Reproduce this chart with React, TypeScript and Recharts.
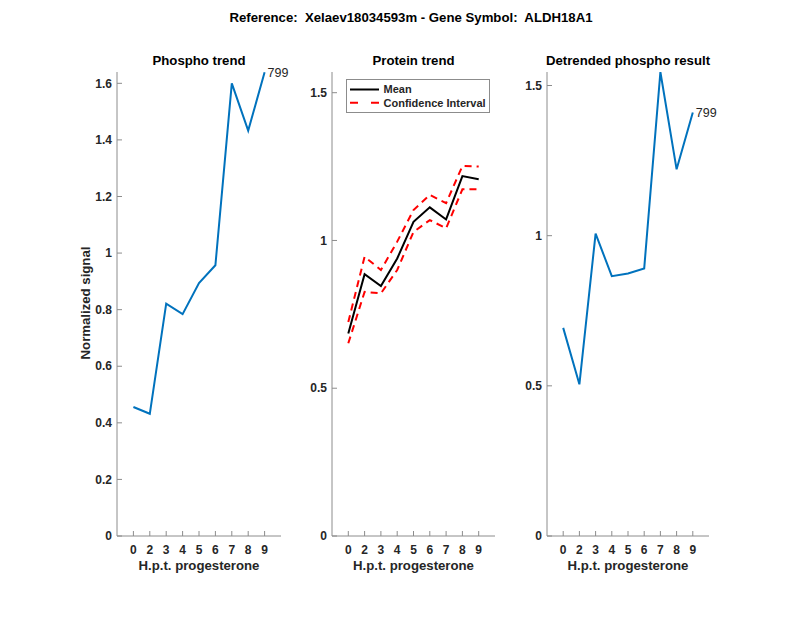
import React from 'react';
import { LineChart, Line, XAxis, YAxis, Legend, LabelList } from 'recharts';

const FONT = "'Liberation Sans', Arial, Helvetica, sans-serif";
const AXIS = '#8c8c8c';
const TXT = '#262626';
const BLUE = '#0072BD';

const figureTitle = 'Reference:  Xelaev18034593m - Gene Symbol:  ALDH18A1';
const categories = ['0', '2', '3', '4', '5', '6', '7', '8', '9'];
const phospho = [0.456, 0.432, 0.821, 0.784, 0.894, 0.957, 1.6, 1.433, 1.639];
const proteinMean = [0.685, 0.886, 0.846, 0.939, 1.063, 1.112, 1.071, 1.218, 1.207];
const ciUpper = [0.724, 0.945, 0.9, 0.996, 1.103, 1.154, 1.126, 1.252, 1.25];
const ciLower = [0.652, 0.826, 0.821, 0.9, 1.029, 1.069, 1.041, 1.173, 1.173];
const detrended = [0.693, 0.505, 1.007, 0.865, 0.874, 0.891, 1.545, 1.221, 1.41];
const siteLabel = '799';
const legendOrder = ['Mean', 'Confidence Interval'];

const phosphoTicks = [0, 0.2, 0.4, 0.6, 0.8, 1, 1.2, 1.4, 1.6];
const proteinTicks = [0, 0.5, 1, 1.5];
const detrendTicks = [0, 0.5, 1, 1.5];
const xPositions = categories.map((_, k) => k + 1);

const makeRows = (cols: Record<string, number[]>) =>
  categories.map((c, k) => {
    const r: any = { i: k + 1, cat: c, tag: k === categories.length - 1 ? siteLabel : '' };
    Object.keys(cols).forEach((key) => {
      r[key] = cols[key][k];
    });
    return r;
  });

const phosphoRows = makeRows({ v: phospho });
const proteinRows = makeRows({ mean: proteinMean, up: ciUpper, lo: ciLower });
const detrendRows = makeRows({ v: detrended });

const X_MARGIN = 9;
const Y_MARGIN = 5;

const XTick = (p: any) => {
  const { x, y, payload } = p;
  const ay = y - X_MARGIN;
  return (
    <g>
      <line x1={x} x2={x} y1={ay} y2={ay - 5} stroke={AXIS} strokeWidth={1} />
      <text x={x} y={y} dy="0.71em" textAnchor="middle" fontFamily={FONT} fontSize={12} fontWeight="bold" fill={TXT}>
        {categories[payload.value - 1]}
      </text>
    </g>
  );
};

const YTick = (p: any) => {
  const { x, y, payload } = p;
  const ax = x + Y_MARGIN;
  return (
    <g>
      <line x1={ax} x2={ax + 5} y1={y} y2={y} stroke={AXIS} strokeWidth={1} />
      <text x={x} y={y} dy="0.35em" textAnchor="end" fontFamily={FONT} fontSize={12} fontWeight="bold" fill={TXT}>
        {String(payload.value)}
      </text>
    </g>
  );
};

const TagLabel = (p: any) => {
  const { x, y, value } = p;
  if (!value) return null;
  return (
    <text x={x + 3} y={y} dy="0.35em" fontFamily={FONT} fontSize={12.5} fill={TXT}>
      {value}
    </text>
  );
};

const LegendBox = (p: any) => {
  const items = (p.payload || [])
    .filter((e: any) => e.type !== 'none' && legendOrder.indexOf(e.value) >= 0)
    .sort((a: any, b: any) => legendOrder.indexOf(a.value) - legendOrder.indexOf(b.value));
  return (
    <svg width={144} height={34} style={{ display: 'block' }}>
      <rect x={0.5} y={0.5} width={143} height={33} fill="#fff" stroke={AXIS} />
      {items.map((e: any, k: number) => {
        const yy = 10.5 + k * 13.3;
        return (
          <g key={k}>
            <line
              x1={4}
              x2={33}
              y1={yy}
              y2={yy}
              stroke={e.color}
              strokeWidth={2}
              strokeDasharray={e.payload && e.payload.strokeDasharray ? '8 13' : undefined}
            />
            <text x={37.5} y={yy} dy="0.35em" fontFamily={FONT} fontSize={11} fontWeight="bold" fill={TXT}>
              {e.value}
            </text>
          </g>
        );
      })}
    </svg>
  );
};

type PanelProps = {
  plotLeft: number;
  plotRight: number;
  data: any[];
  domain: [number, number];
  ticks: number[];
  children: React.ReactNode;
};

function Panel({ plotLeft, plotRight, data, domain, ticks, children }: PanelProps) {
  const w = plotRight - plotLeft;
  return (
    <div style={{ position: 'absolute', left: plotLeft - 60, top: 40 }}>
      <LineChart width={w + 100} height={546} data={data} margin={{ top: 32, right: 40, bottom: 10, left: 0 }}>
        <XAxis
          type="number"
          dataKey="i"
          domain={[0, 10]}
          ticks={xPositions}
          interval={0}
          height={40}
          tickSize={0}
          tickMargin={X_MARGIN}
          tickLine={false}
          axisLine={{ stroke: AXIS, strokeWidth: 1 }}
          tick={<XTick />}
        />
        <YAxis
          type="number"
          domain={domain}
          ticks={ticks}
          interval={0}
          width={60}
          tickSize={0}
          tickMargin={Y_MARGIN}
          tickLine={false}
          axisLine={{ stroke: AXIS, strokeWidth: 1 }}
          tick={<YTick />}
          allowDataOverflow
        />
        {children}
      </LineChart>
    </div>
  );
}

const titleStyle = { fontFamily: FONT, fontSize: 13.2, fontWeight: 'bold' as const, fill: '#000' };
const labelStyle = { fontFamily: FONT, fontSize: 13.2, fontWeight: 'bold' as const, fill: TXT };

export default function App() {
  const panels = [
    { l: 117, r: 281, title: 'Phospho trend' },
    { l: 332, r: 495, title: 'Protein trend' },
    { l: 547, r: 709, title: 'Detrended phospho result' },
  ];
  return (
    <div style={{ position: 'absolute', left: 0, top: 0, width: 800, height: 618, background: '#fff' }}>
      <Panel plotLeft={117} plotRight={281} data={phosphoRows} domain={[0, 1.64]} ticks={phosphoTicks}>
        <Line type="linear" dataKey="v" stroke={BLUE} strokeWidth={2} dot={false} isAnimationActive={false}>
          <LabelList dataKey="tag" content={TagLabel} />
        </Line>
      </Panel>
      <Panel plotLeft={332} plotRight={495} data={proteinRows} domain={[0, 1.57]} ticks={proteinTicks}>
        <Line type="linear" dataKey="mean" name="Mean" stroke="#000" strokeWidth={2} dot={false} isAnimationActive={false} />
        <Line
          type="linear"
          dataKey="up"
          name="Confidence Interval"
          stroke="#ff0000"
          strokeWidth={2}
          strokeDasharray="7 5"
          dot={false}
          isAnimationActive={false}
        />
        <Line
          type="linear"
          dataKey="lo"
          name="Confidence Interval (lower)"
          legendType="none"
          stroke="#ff0000"
          strokeWidth={2}
          strokeDasharray="7 5"
          dot={false}
          isAnimationActive={false}
        />
        <Legend
          layout="vertical"
          align="center"
          verticalAlign="middle"
          wrapperStyle={{ left: 73.7, top: 39, width: 144, height: 34 }}
          content={LegendBox}
        />
      </Panel>
      <Panel plotLeft={547} plotRight={709} data={detrendRows} domain={[0, 1.545]} ticks={detrendTicks}>
        <Line type="linear" dataKey="v" stroke={BLUE} strokeWidth={2} dot={false} isAnimationActive={false}>
          <LabelList dataKey="tag" content={TagLabel} />
        </Line>
      </Panel>
      <svg width={800} height={618} style={{ position: 'absolute', left: 0, top: 0, pointerEvents: 'none' }}>
        <text
          x={411}
          y={17}
          dy="0.35em"
          textAnchor="middle"
          xmlSpace="preserve"
          style={{ whiteSpace: 'pre' }}
          {...titleStyle}
        >
          {figureTitle}
        </text>
        {panels.map((p) => (
          <g key={p.title}>
            <text x={(p.l + p.r) / 2} y={60.5} dy="0.35em" textAnchor="middle" {...titleStyle}>
              {p.title}
            </text>
            <text x={(p.l + p.r) / 2} y={565} dy="0.35em" textAnchor="middle" {...labelStyle}>
              H.p.t. progesterone
            </text>
          </g>
        ))}
        <text
          x={85}
          y={303}
          dy="0.35em"
          textAnchor="middle"
          transform="rotate(-90 85 303)"
          {...labelStyle}
        >
          Normalized signal
        </text>
      </svg>
    </div>
  );
}
